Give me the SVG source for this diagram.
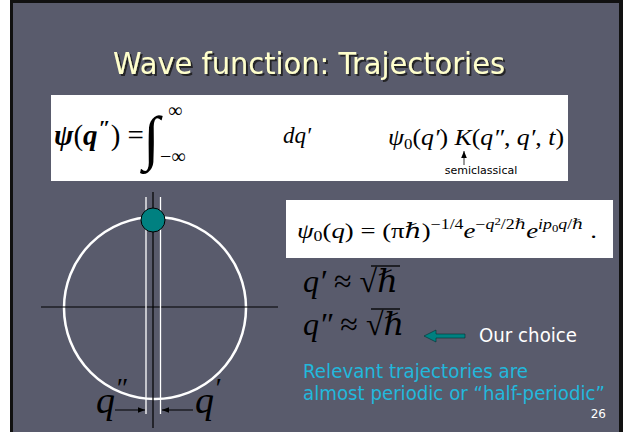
<svg xmlns="http://www.w3.org/2000/svg" width="623" height="432" viewBox="0 0 623 432">
<defs>
<style>
.m{font-family:"Liberation Serif","DejaVu Serif",serif;fill:#000}
.i{font-style:italic}
.s{font-family:"DejaVu Sans","Liberation Sans",sans-serif}
</style>
<filter id="sh" x="-5%" y="-20%" width="110%" height="150%">
<feDropShadow dx="2" dy="2" stdDeviation="0.6" flood-color="#1a1a1a" flood-opacity="0.9"/>
</filter>
<marker id="ah" viewBox="0 0 10 10" refX="10" refY="5" markerWidth="7" markerHeight="7" markerUnits="userSpaceOnUse" orient="auto">
<path d="M0,1 L10,5 L0,9 z" fill="#000"/>
</marker>
</defs>
<rect x="0" y="0" width="623" height="432" fill="#ffffff"/>
<rect x="10" y="0" width="613" height="432" fill="#595b6c"/>
<rect x="10" y="0" width="3" height="432" fill="#111"/>
<rect x="10" y="0" width="613" height="3" fill="#111"/>
<rect x="619" y="0" width="4" height="432" fill="#111"/>

<g id="title">
<text x="309" y="74" text-anchor="middle" class="s" font-size="30" fill="#ffffcc" textLength="392" lengthAdjust="spacingAndGlyphs" filter="url(#sh)">Wave function: Trajectories</text>
</g>

<g id="formula1">
<rect x="51" y="95" width="517" height="86" fill="#fff"/>
<text x="54" y="145" class="m i" font-size="29" font-weight="bold">ψ<tspan font-weight="normal" font-style="normal">(</tspan>q<tspan font-size="22" dy="-10" dx="1">″</tspan><tspan dy="10" font-weight="normal" font-style="normal">) =</tspan></text>
<text x="143" y="158" class="m" font-size="60">∫</text>
<text x="168" y="117" class="m" font-size="20">∞</text>
<text x="160" y="163" class="m" font-size="20">−∞</text>
<text x="283" y="143" class="m i" font-size="23">dq′</text>
<text x="388" y="145" class="m i" font-size="23" textLength="176" lengthAdjust="spacingAndGlyphs">ψ<tspan font-style="normal" font-size="15" dy="4">0</tspan><tspan font-style="normal" dy="-4">(</tspan>q′<tspan font-style="normal">) </tspan>K<tspan font-style="normal">(</tspan>q″<tspan font-style="normal">, </tspan>q′<tspan font-style="normal">, </tspan>t<tspan font-style="normal">)</tspan></text>
<line x1="464" y1="165" x2="464" y2="151" stroke="#000" stroke-width="0.8" marker-end="url(#ah)"/>
<text x="481" y="174" text-anchor="middle" class="s" font-size="11" fill="#000">semiclassical</text>
</g>

<g id="formula2">
<rect x="286" y="200" width="327" height="58" fill="#fff"/>
<text x="297" y="238" class="m i" font-size="21" textLength="300" lengthAdjust="spacingAndGlyphs">ψ<tspan font-style="normal" font-size="14" dy="3">0</tspan><tspan font-style="normal" dy="-3">(</tspan>q<tspan font-style="normal">) = (π</tspan>ℏ<tspan font-style="normal">)</tspan><tspan font-style="normal" font-size="14" dy="-9">−1/4</tspan><tspan dy="9">e</tspan><tspan font-size="14" dy="-9"><tspan font-style="normal">−</tspan>q<tspan font-style="normal" font-size="10" dy="-4">2</tspan><tspan font-style="normal" dy="4">/2</tspan>ℏ</tspan><tspan dy="9">e</tspan><tspan font-size="14" dy="-9">ip<tspan font-style="normal" font-size="10" dy="3">0</tspan><tspan dy="-3">q</tspan><tspan font-style="normal">/</tspan>ℏ</tspan><tspan font-style="normal" dy="9">   .</tspan></text>
</g>

<g id="phase-diagram">
<circle cx="155" cy="308" r="91" fill="none" stroke="#fff" stroke-width="2.5"/>
<line x1="41" y1="307" x2="278" y2="307" stroke="#000" stroke-width="1.2"/>
<line x1="153" y1="192" x2="153" y2="428" stroke="#000" stroke-width="1.2"/>
<line x1="146" y1="197" x2="146" y2="414" stroke="#fff" stroke-width="1.3"/>
<line x1="160.5" y1="197" x2="160.5" y2="414" stroke="#fff" stroke-width="1.3"/>
<circle cx="153" cy="220" r="12" fill="#008080" stroke="#000" stroke-width="1"/>
<text x="96" y="413" class="m i" font-size="38">q<tspan font-size="28" dy="-16">″</tspan></text>
<text x="195" y="413" class="m i" font-size="38">q<tspan font-size="28" dy="-16">′</tspan></text>
<line x1="115" y1="410" x2="145" y2="410" stroke="#000" stroke-width="1" marker-end="url(#ah)"/>
<line x1="193" y1="410" x2="162" y2="410" stroke="#000" stroke-width="1" marker-end="url(#ah)"/>
</g>

<g id="estimates">
<text x="303" y="292" class="m i" font-size="32">q′ <tspan font-style="normal">≈ √</tspan>ℏ</text>
<line x1="371" y1="266" x2="400" y2="266" stroke="#000" stroke-width="1.3"/>
<text x="303" y="335" class="m i" font-size="32">q″ <tspan font-style="normal">≈ √</tspan>ℏ</text>
<line x1="371" y1="309" x2="400" y2="309" stroke="#000" stroke-width="1.3"/>
</g>

<g id="choice">
<path d="M424,336 L436,330 L436,334 L465,334 L465,338 L436,338 L436,342 Z" fill="#008080" stroke="#003333" stroke-width="0.6"/>
<text x="479" y="342" class="s" font-size="20" fill="#fff" textLength="98" lengthAdjust="spacingAndGlyphs">Our choice</text>
</g>

<g id="note">
<text x="303" y="378" class="s" font-size="19" fill="#22b8dc" textLength="225" lengthAdjust="spacingAndGlyphs">Relevant trajectories are</text>
<text x="303" y="400" class="s" font-size="19" fill="#22b8dc" textLength="302" lengthAdjust="spacingAndGlyphs">almost periodic or “half-periodic”</text>
<text x="606" y="418" text-anchor="end" class="s" font-size="12" fill="#fff">26</text>
</g>
</svg>
